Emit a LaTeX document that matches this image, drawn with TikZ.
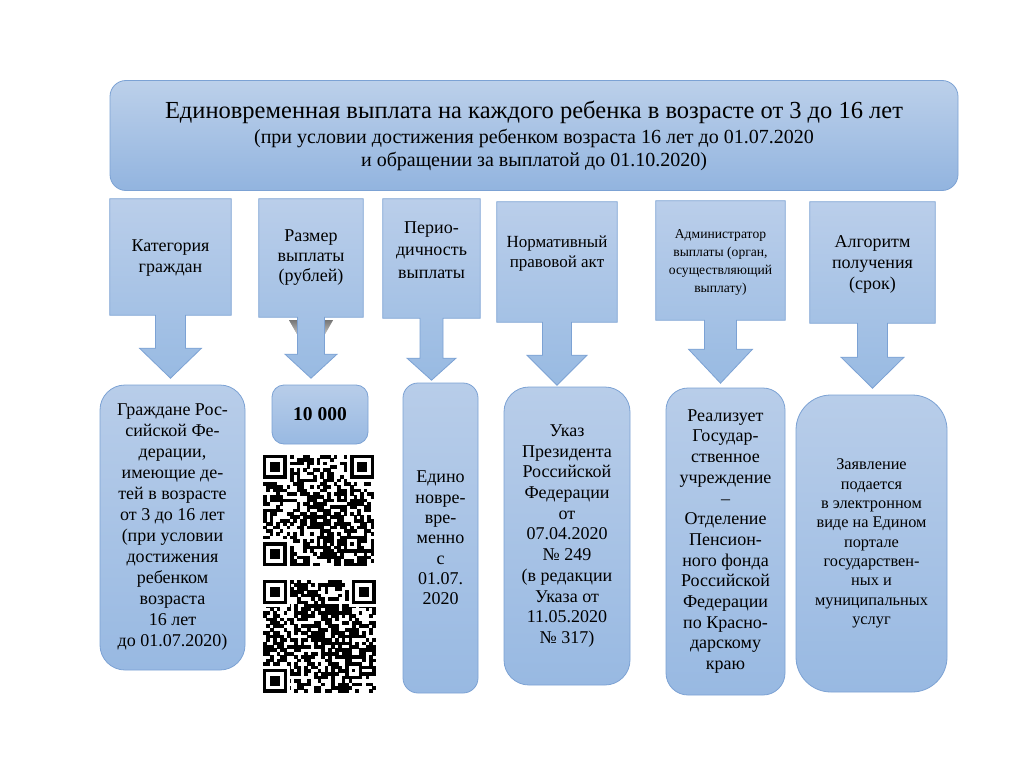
\documentclass[tikz,border=0pt]{standalone}
\usepackage{fontspec}
\setmainfont{Liberation Serif}[Ligatures=TeX]
\usetikzlibrary{calc,backgrounds}
\definecolor{bord}{RGB}{124,162,212}
\definecolor{hTop}{RGB}{188,208,234}
\definecolor{hBot}{RGB}{146,180,223}
\definecolor{bTop}{RGB}{184,205,233}
\definecolor{bBot}{RGB}{152,185,226}
\definecolor{cTop}{RGB}{186,206,234}
\definecolor{cBot}{RGB}{152,186,226}
\definecolor{shade}{RGB}{118,100,122}
\newcommand\callout[5]{% name, stem half, head half, head offset, tip offset
  \path[callfill] let \p1=(#1.south west), \p2=(#1.north east), \p3=(#1.south) in
   (\x1,\y1) -- (\x1,\y2) -- (\x2,\y2) -- (\x2,\y1) -- (\x3+#2pt,\y1)
   -- (\x3+#2pt,\y1-#4pt) -- (\x3+#3pt,\y1-#4pt) -- (\x3,\y1-#5pt)
   -- (\x3-#3pt,\y1-#4pt) -- (\x3-#2pt,\y1-#4pt) -- (\x3-#2pt,\y1) -- cycle;}
\newcommand\qrdraw[4]{% x, y, module, seed
  \pgfmathsetseed{#4}
  \foreach \i in {0,...,32}{\foreach \j in {0,...,32}{%
    \pgfmathrandominteger{\qrr}{0}{99}%
    \ifnum\qrr<50 \fill (#1+\i*#3,#2+\j*#3) rectangle ++(#3+0.3,#3+0.3);\fi}}
  \fill[white] (#1,#2) rectangle ++(8*#3,8*#3);
  \fill[white] (#1+25*#3,#2) rectangle ++(8*#3,8*#3);
  \fill[white] (#1,#2+25*#3) rectangle ++(8*#3,8*#3);
  \foreach \a/\b in {0/0,26/0,0/26}{
    \fill (#1+\a*#3,#2+\b*#3) rectangle ++(7*#3,7*#3);
    \fill[white] (#1+\a*#3+#3,#2+\b*#3+#3) rectangle ++(5*#3,5*#3);
    \fill (#1+\a*#3+2*#3,#2+\b*#3+2*#3) rectangle ++(3*#3,3*#3);}
  \fill (#1+24*#3,#2+24*#3) rectangle ++(5*#3,5*#3);
  \fill[white] (#1+25*#3,#2+25*#3) rectangle ++(3*#3,3*#3);
  \fill (#1+26*#3,#2+26*#3) rectangle ++(#3,#3);}
\begin{document}
\begin{tikzpicture}[x=1pt,y=-1pt,
  hdr/.style={draw=bord, line width=0.8pt, rounded corners=16pt, top color=hTop, bottom color=hBot,
    minimum width=848pt, minimum height=110pt, align=center, inner sep=0pt},
  topbox/.style={minimum width=#1, inner sep=0pt},
  txt/.style={align=center, inner sep=0pt, font=\fontsize{18}{21}\selectfont},
  callfill/.style={draw=bord, line width=0.8pt, top color=cTop, bottom color=cBot},
  botbox/.style={draw=bord, line width=0.8pt, top color=bTop, bottom color=bBot,
    align=center, inner sep=0pt, font=\fontsize{18}{21}\selectfont}]
\useasboundingbox (0,0) rectangle (1024,768);

% header
\node[hdr, font=\fontsize{20}{23}\selectfont] (head) at (534,135.5)
  {{\fontsize{24.5}{27}\selectfont Единовременная выплата на каждого ребенка в возрасте от 3 до 16 лет}\\[2pt]
   (при условии достижения ребенком возраста 16 лет до 01.07.2020\\
   и обращении за выплатой до 01.10.2020)};

% top boxes
\node[topbox=121pt, minimum height=116pt] (k1) at (170.5,257) {};
\node[topbox=104pt, minimum height=118pt] (k2) at (311,258) {};
\node[topbox=97pt,  minimum height=119pt] (k3) at (431.5,258.5) {};
\node[topbox=120pt, minimum height=120pt] (k4) at (557,262) {};
\node[topbox=129pt, minimum height=119pt] (k5) at (720.5,260.5) {};
\node[topbox=125pt, minimum height=121pt] (k6) at (872.5,262.5) {};

\node[txt] (k1t) at (170.5,258) {Категория\\граждан};
\node[txt, font=\fontsize{18}{20}\selectfont] (k2t) at (311,258) {Размер\\выплаты\\(рублей)};
\node[txt, font=\fontsize{18}{22.5}\selectfont] (k3t) at (431.5,250) {Перио-\\дичность\\выплаты};
\node[txt, font=\fontsize{17}{20}\selectfont] (k4t) at (557,253) {Нормативный\\правовой акт};
\node[txt, font=\fontsize{13.6}{18}\selectfont] (k5t) at (720.5,262.5) {Администратор\\выплаты (орган,\\осуществляющий\\выплату)};
\node[txt, font=\fontsize{18}{21}\selectfont] (k6t) at (872.5,264) {Алгоритм\\получения\\(срок)};

\begin{scope}[on background layer]
  \fill[white] (0,0) rectangle (1024,768);
  \fill[shade, opacity=0.6] (289,320) -- (333,320) -- (325,334) -- (297,334) -- cycle;
  \callout{k1}{15}{31}{33}{63}
  \callout{k2}{13.5}{26}{37}{61}
  \callout{k3}{11.5}{24.5}{40}{62}
  \callout{k4}{14.5}{30}{33}{63}
  \callout{k5}{16}{32}{29}{63}
  \callout{k6}{15}{31.5}{34}{65}
\end{scope}

% bottom boxes
\node[botbox, minimum width=145pt, minimum height=285pt, rounded corners=25pt] (b1) at (172.5,527.5)
  {Граждане Рос-\\сийской Фе-\\дерации,\\имеющие де-\\тей в возрасте\\от 3 до 16 лет\\(при условии\\достижения\\ребенком\\возраста\\16 лет\\до 01.07.2020)};
\node[botbox, minimum width=96pt, minimum height=59pt, rounded corners=12pt, font=\fontsize{19.5}{21}\selectfont\bfseries] (b2) at (320,414.5)
  {10 000};
\node[botbox, minimum width=75pt, minimum height=310pt, rounded corners=15pt, font=\fontsize{18}{20.3}\selectfont] (b3) at (440.5,538)
  {Едино\\новре-\\вре-\\менно\\с\\01.07.\\2020};
\node[botbox, minimum width=126pt, minimum height=298pt, rounded corners=25pt, font=\fontsize{18}{20.7}\selectfont] (b4) at (567,536)
  {Указ\\Президента\\Российской\\Федерации\\от\\07.04.2020\\№ 249\\(в редакции\\Указа от\\11.05.2020\\№ 317)};
\node[botbox, minimum width=119pt, minimum height=307pt, rounded corners=22pt, font=\fontsize{18}{20.7}\selectfont] (b5) at (725.5,541.5)
  {Реализует\\Государ-\\ственное\\учреждение\\–\\Отделение\\Пенсион-\\ного фонда\\Российской\\Федерации\\по Красно-\\дарскому\\краю};
\node[botbox, minimum width=151pt, minimum height=297pt, rounded corners=35pt, font=\fontsize{16.3}{19.3}\selectfont] (b6) at (871.5,543.5)
  {Заявление\\подается\\в электронном\\виде на Едином\\портале\\государствен-\\ных и\\муниципальных\\услуг};

% QR codes
\qrdraw{263}{455}{3.36}{17}
\qrdraw{263}{580}{3.42}{91}
\end{tikzpicture}
\end{document}
